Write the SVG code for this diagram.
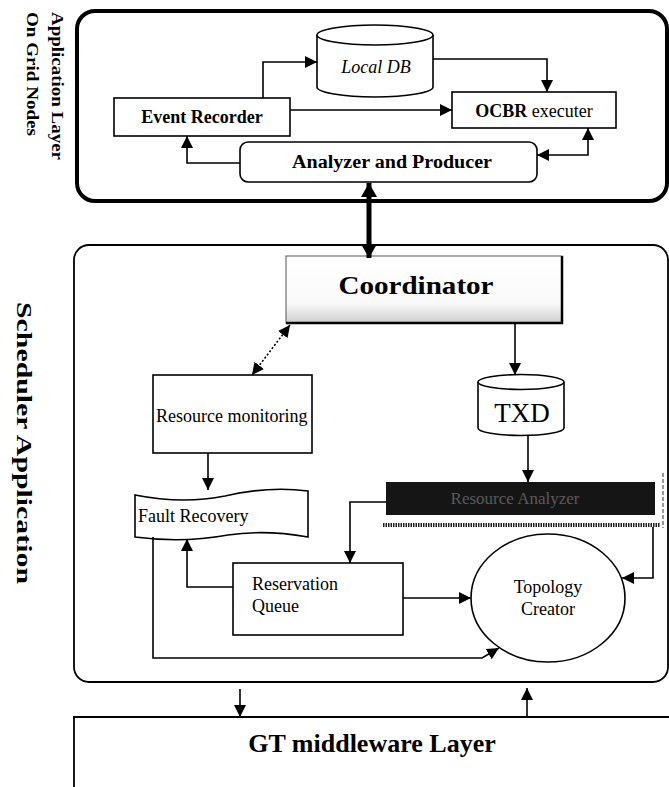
<svg xmlns="http://www.w3.org/2000/svg" width="669" height="787" viewBox="0 0 669 787">
<style>
.t{font-family:"Liberation Serif","Times New Roman",serif;fill:#000}
.b{font-weight:bold}
.box{fill:#fff;stroke:#000;stroke-width:1.6}
.ln{fill:none;stroke:#000;stroke-width:1.6}
</style>
<defs>
<marker id="ah" markerUnits="userSpaceOnUse" markerWidth="14" markerHeight="12" refX="12" refY="6" orient="auto-start-reverse">
<path d="M0,0 L12,6 L0,12 Z" fill="#000"/>
</marker>
<marker id="ahb" markerUnits="userSpaceOnUse" markerWidth="16" markerHeight="16" refX="14" refY="8" orient="auto-start-reverse">
<path d="M0,0 L14,8 L0,16 Z" fill="#000"/>
</marker>
<linearGradient id="cg" x1="0" y1="0" x2="0" y2="1">
<stop offset="0" stop-color="#fff"/>
<stop offset="0.7" stop-color="#fafafa"/>
<stop offset="1" stop-color="#cfcfcf"/>
</linearGradient>
</defs>

<g id="layer-labels">
<text class="t b" font-size="17.5" transform="translate(52,12) rotate(90)" textLength="148" lengthAdjust="spacingAndGlyphs">Application Layer</text>
<text class="t b" font-size="17.5" transform="translate(27,12) rotate(90)" textLength="124" lengthAdjust="spacingAndGlyphs">On Grid Nodes</text>
<text class="t b" font-size="21" transform="translate(17,302) rotate(90)" textLength="282" lengthAdjust="spacingAndGlyphs">Scheduler Application</text>
</g>

<g id="app-layer">
<rect x="77" y="11" width="590" height="190" rx="18" fill="none" stroke="#000" stroke-width="4"/>
</g>
<g id="scheduler">
<rect x="74" y="245" width="594" height="437" rx="15" fill="none" stroke="#000" stroke-width="1.8"/>
</g>
<g id="gt-layer">
<path d="M74,787 V717 H669" fill="none" stroke="#000" stroke-width="1.8"/>
<text class="t b" x="372" y="752" font-size="26" text-anchor="middle">GT middleware Layer</text>
</g>

<g id="local-db">
<path d="M317,35 V87 A58,10 0 0 0 433,87 V35" class="box"/>
<ellipse cx="375" cy="35" rx="58" ry="10" class="box"/>
<text class="t" x="376" y="73" font-size="18" font-style="italic" text-anchor="middle">Local DB</text>
</g>
<g id="event-recorder">
<rect x="114" y="98" width="176" height="38" class="box"/>
<text class="t b" x="202" y="123" font-size="18" text-anchor="middle">Event Recorder</text>
</g>
<g id="ocbr">
<rect x="452" y="92" width="164" height="36" class="box"/>
<text class="t" x="534" y="117" font-size="18" text-anchor="middle"><tspan class="b">OCBR</tspan> executer</text>
</g>
<g id="analyzer">
<rect x="240" y="142" width="297" height="40" rx="8" class="box"/>
<text class="t b" x="392" y="168" font-size="18" text-anchor="middle" textLength="200" lengthAdjust="spacingAndGlyphs">Analyzer and Producer</text>
</g>

<g id="coordinator">
<rect x="286" y="256" width="276" height="67" fill="url(#cg)" stroke="#555" stroke-width="1"/>
<path d="M286,323 H562 V256" fill="none" stroke="#000" stroke-width="2.5"/>
<text class="t b" x="416" y="294" font-size="26" text-anchor="middle" textLength="155" lengthAdjust="spacingAndGlyphs">Coordinator</text>
</g>
<g id="resource-monitoring">
<rect x="153" y="375" width="159" height="78" class="box"/>
<text class="t" x="156" y="422" font-size="18">Resource monitoring</text>
</g>
<g id="txd">
<path d="M478,382 V428 A43,7.5 0 0 0 564,428 V382" class="box"/>
<ellipse cx="521" cy="382" rx="43" ry="7.5" class="box"/>
<text class="t" x="522" y="422" font-size="27" text-anchor="middle">TXD</text>
</g>
<g id="resource-analyzer">
<rect x="386" y="482" width="269" height="33" fill="#151515"/>
<text class="t" x="515" y="504" font-size="17" text-anchor="middle" style="fill:#5a5a5a">Resource Analyzer</text>
<line x1="383" y1="525" x2="660" y2="525" stroke="#222" stroke-width="4" stroke-dasharray="1.5,1"/>
<line x1="663" y1="473" x2="663" y2="528" stroke="#333" stroke-width="1" stroke-dasharray="4,2"/>
</g>
<g id="fault-recovery">
<path d="M135,495 C165,501 195,502 225,496 C255,489 285,488 308,491 V537 C280,532 255,531 228,535 C195,541 165,541 135,537 Z" class="box"/>
<text class="t" x="138" y="522" font-size="18">Fault Recovery</text>
</g>
<g id="reservation-queue">
<rect x="233" y="563" width="170" height="72" class="box"/>
<text class="t" x="252" y="590" font-size="18">Reservation</text>
<text class="t" x="252" y="612" font-size="18">Queue</text>
</g>
<g id="topology-creator">
<ellipse cx="548" cy="598" rx="77" ry="64" class="box"/>
<text class="t" x="548" y="593" font-size="18" text-anchor="middle">Topology</text>
<text class="t" x="548" y="615" font-size="18" text-anchor="middle">Creator</text>
</g>

<g id="connectors">
<path d="M263,98 V62 H317" class="ln" marker-end="url(#ah)"/>
<path d="M433,59 H547 V92" class="ln" marker-end="url(#ah)"/>
<path d="M290,110 H452" class="ln" marker-end="url(#ah)"/>
<path d="M240,163 H187 V136" class="ln" marker-end="url(#ah)"/>
<path d="M588,128 V155 H537" class="ln" marker-start="url(#ah)" marker-end="url(#ah)"/>
<path d="M369,183 V258" fill="none" stroke="#000" stroke-width="5" marker-start="url(#ahb)" marker-end="url(#ahb)"/>
<path d="M290,325 L252,375" fill="none" stroke="#000" stroke-width="1.6" stroke-dasharray="2,2" marker-start="url(#ah)" marker-end="url(#ah)"/>
<path d="M515,323 V375" class="ln" marker-end="url(#ah)"/>
<path d="M528,435 V482" class="ln" marker-end="url(#ah)"/>
<path d="M208,453 V490" class="ln" marker-end="url(#ah)"/>
<path d="M386,502 H350 V563" class="ln" marker-end="url(#ah)"/>
<path d="M233,587 H187 V539" class="ln" marker-end="url(#ah)"/>
<path d="M403,598 H471" class="ln" marker-end="url(#ah)"/>
<path d="M653,527 V578 H622" class="ln" marker-end="url(#ah)"/>
<path d="M153,537 V658 H482 L499,648" class="ln" marker-end="url(#ah)"/>
<path d="M240,689 V717" class="ln" marker-end="url(#ah)"/>
<path d="M527,717 V688" class="ln" marker-end="url(#ah)"/>
</g>
</svg>
